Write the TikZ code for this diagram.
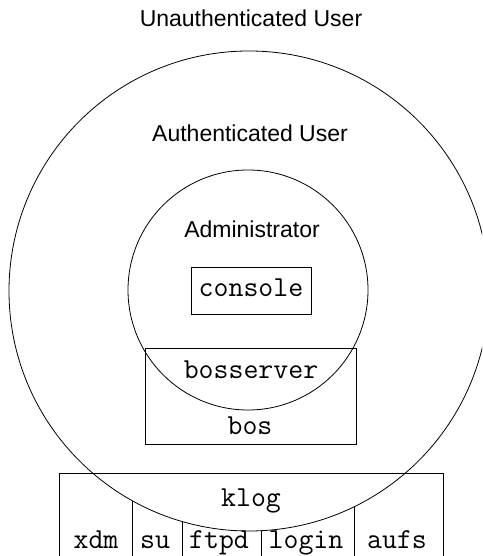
\documentclass[tikz,border=0pt]{standalone}
\usepackage{fontspec}
\setmainfont{Liberation Sans}

\begin{document}
\begin{tikzpicture}[x=1pt,y=1pt,line width=0.8pt,
    ring/.style={shape=circle,draw=black,inner sep=0pt,outer sep=0pt},
    box/.style={shape=rectangle,draw=black,inner sep=0pt,outer sep=0pt},
    role/.style={anchor=base,font=\fontsize{23}{27}\selectfont},
    prog/.style={anchor=base,font=\ttfamily\fontsize{29}{34}\selectfont}]
    \path[use as bounding box,clip] (0,0) rectangle (482,556);

    \node[role] (unauth) at (251,529) {Unauthenticated User};
    \node[ring,minimum size=480] (outer) at (249,265) {};
    \node[role] (auth) at (250,414) {Authenticated User};
    \node[ring,minimum size=240] (inner) at (248,266) {};
    \node[role] (admin) at (252,318) {Administrator};

    \node[box,minimum width=120,minimum height=47] (console) at (251,265.5) {};
    \node[prog] (consoletext) at (251,259) {console};

    \node[box,minimum width=211,minimum height=96] (bosbox) at (250.5,160) {};
    \node[prog] (bosserver) at (251,177) {bosserver};
    \node[prog] (bos) at (250,121) {bos};

    \node[box,minimum width=384,minimum height=120] (klogbox) at (251,23) {};
    \node[prog] (klog) at (251,49) {klog};

    \draw (outer.-119.45) -- (outer.-119.45 |- klogbox.south);
    \draw (outer.-106.95) -- (outer.-106.95 |- klogbox.south);
    \draw (outer.-87.6) -- (outer.-87.6 |- klogbox.south);
    \draw (outer.-64.6) -- (outer.-64.6 |- klogbox.south);

    \node[prog] (xdm) at (96,7) {xdm};
    \node[prog] (su) at (155,7) {su};
    \node[prog] (ftpd) at (219,7) {ftpd};
    \node[prog] (login) at (306,7) {login};
    \node[prog] (aufs) at (397,7) {aufs};
\end{tikzpicture}
\end{document}
